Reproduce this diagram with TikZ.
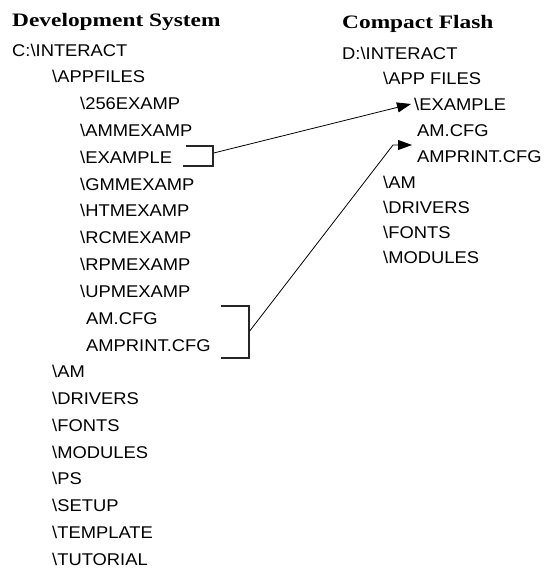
\documentclass[tikz,border=0pt]{standalone}
\usepackage{fontspec}
\newfontfamily\bodyf[FakeStretch=1.08]{Liberation Sans}
\newfontfamily\titlef[FakeStretch=1.23]{Liberation Serif}
\usetikzlibrary{arrows.meta}
\begin{document}
\begin{tikzpicture}[x=1pt,y=-1pt,
  item/.style={anchor=west, inner sep=0pt, font=\bodyf\fontsize{17}{17}\selectfont, text height=12.2pt, text depth=0pt},
  ttl/.style={anchor=west, inner sep=0pt, font=\titlef\bfseries\fontsize{19}{19}\selectfont, text height=12.6pt, text depth=0pt},
  bracket/.style={line width=1.4pt, black!85, line join=miter},
  conn/.style={line width=0.8pt, -{Triangle[length=14pt,width=10pt]}}]
\useasboundingbox (0,0) rectangle (547,572);
% Development System
\node[ttl]  (tL)  at (12,20)    {Development System};
\node[item] (l0)  at (12,50)    {C:\textbackslash INTERACT};
\node[item] (l1)  at (52,76.8)  {\textbackslash APPFILES};
\node[item] (l2)  at (80,103.6) {\textbackslash 256EXAMP};
\node[item] (l3)  at (80,130.4) {\textbackslash AMMEXAMP};
\node[item] (l4)  at (80,157.2) {\textbackslash EXAMPLE};
\node[item] (l5)  at (80,184)   {\textbackslash GMMEXAMP};
\node[item] (l6)  at (80,210.8) {\textbackslash HTMEXAMP};
\node[item] (l7)  at (80,237.6) {\textbackslash RCMEXAMP};
\node[item] (l8)  at (80,264.4) {\textbackslash RPMEXAMP};
\node[item] (l9)  at (80,291.2) {\textbackslash UPMEXAMP};
\node[item] (l10) at (86,318)   {AM.CFG};
\node[item] (l11) at (86,345.5) {AMPRINT.CFG};
\node[item] (l12) at (52,371.6) {\textbackslash AM};
\node[item] (l13) at (52,398.4) {\textbackslash DRIVERS};
\node[item] (l14) at (52,425.2) {\textbackslash FONTS};
\node[item] (l15) at (52,452)   {\textbackslash MODULES};
\node[item] (l16) at (52,478.8) {\textbackslash PS};
\node[item] (l17) at (52,505.6) {\textbackslash SETUP};
\node[item] (l18) at (52,532.4) {\textbackslash TEMPLATE};
\node[item] (l19) at (52,559.2) {\textbackslash TUTORIAL};
% Compact Flash
\node[ttl]  (tR)  at (342,22)   {Compact Flash};
\node[item] (r0)  at (342,53)   {D:\textbackslash INTERACT};
\node[item] (r1)  at (383,78.5) {\textbackslash APP FILES};
\node[item] (r2)  at (414,104)  {\textbackslash EXAMPLE};
\node[item] (r3)  at (417,130)  {AM.CFG};
\node[item] (r4)  at (417,156)  {AMPRINT.CFG};
\node[item] (r5)  at (383,182)  {\textbackslash AM};
\node[item] (r6)  at (383,207)  {\textbackslash DRIVERS};
\node[item] (r7)  at (383,232.5){\textbackslash FONTS};
\node[item] (r8)  at (383,257)  {\textbackslash MODULES};
% brackets
\draw[bracket] (186,146) -- (213,146) -- (213,166) -- (183,166);
\draw[bracket] (221,306) -- (249,306) -- (249,358) -- (221,358);
% connector ends
\coordinate (b1) at (213.7,153);
\coordinate (a1) at (411,104);
\coordinate (b2) at (249.7,331);
\coordinate (k2) at (393,145);
\coordinate (a2) at (412,145);
\draw[conn] (b1) -- (a1);
\draw[conn] (b2) -- (k2) -- (a2);
\end{tikzpicture}
\end{document}
